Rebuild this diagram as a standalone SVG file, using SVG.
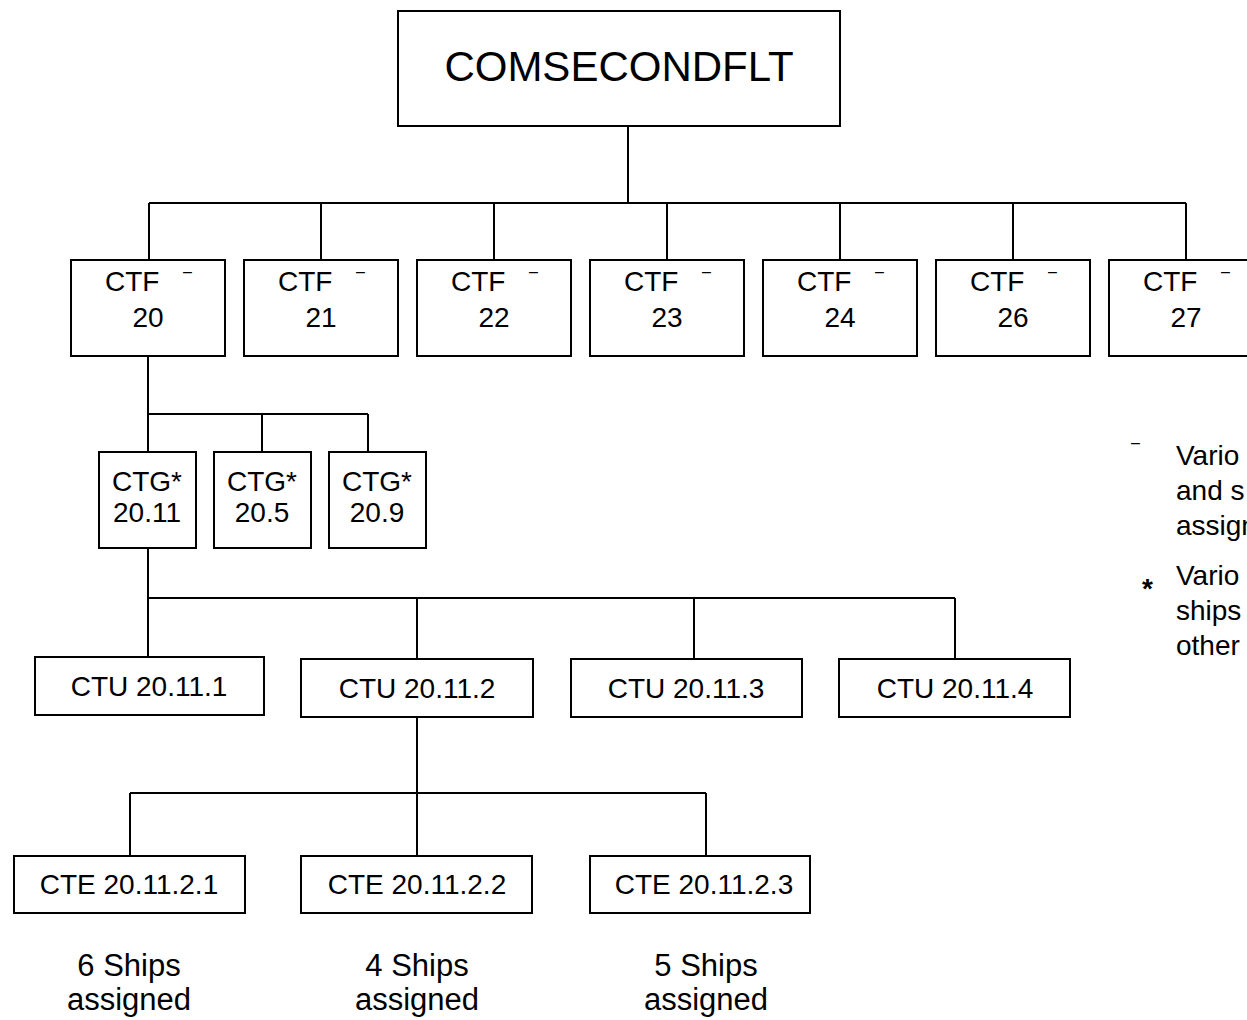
<svg xmlns="http://www.w3.org/2000/svg" width="1247" height="1020" viewBox="0 0 1247 1020">
<style>
.box{fill:#fff;stroke:#000;stroke-width:2}
.con{fill:none;stroke:#000;stroke-width:2}
text{font-family:"Liberation Sans",Arial,sans-serif;font-size:28px;fill:#000}
.c{text-anchor:middle}
.big{font-size:42px}
.lbl{font-size:31px}
.mark{font-size:16px}
</style>
<rect width="1247" height="1020" fill="#fff"/>
<g id="connectors">
<path class="con" d="M628 126V203M149 203H1186M149 203V260M321 203V260M494 203V260M667 203V260M840 203V260M1013 203V260M1186 203V260"/>
<path class="con" d="M148 356V452M148 414H368M262 414V452M368 414V452"/>
<path class="con" d="M148 548V657M148 598H955M417 598V659M694 598V659M955 598V659"/>
<path class="con" d="M417 717V856M130 793H706M130 793V856M706 793V856"/>
</g>
<g id="n-comsecondflt"><rect class="box" x="398" y="11" width="442" height="115"/><text class="c big" x="619" y="81">COMSECONDFLT</text></g>
<g id="n-ctf20"><rect class="box" x="71" y="260" width="154" height="96"/><text x="105" y="291">CTF</text><text class="mark" x="183" y="277">–</text><text class="c" x="148" y="327">20</text></g>
<g id="n-ctf21"><rect class="box" x="244" y="260" width="154" height="96"/><text x="278" y="291">CTF</text><text class="mark" x="356" y="277">–</text><text class="c" x="321" y="327">21</text></g>
<g id="n-ctf22"><rect class="box" x="417" y="260" width="154" height="96"/><text x="451" y="291">CTF</text><text class="mark" x="529" y="277">–</text><text class="c" x="494" y="327">22</text></g>
<g id="n-ctf23"><rect class="box" x="590" y="260" width="154" height="96"/><text x="624" y="291">CTF</text><text class="mark" x="702" y="277">–</text><text class="c" x="667" y="327">23</text></g>
<g id="n-ctf24"><rect class="box" x="763" y="260" width="154" height="96"/><text x="797" y="291">CTF</text><text class="mark" x="875" y="277">–</text><text class="c" x="840" y="327">24</text></g>
<g id="n-ctf26"><rect class="box" x="936" y="260" width="154" height="96"/><text x="970" y="291">CTF</text><text class="mark" x="1048" y="277">–</text><text class="c" x="1013" y="327">26</text></g>
<g id="n-ctf27"><rect class="box" x="1109" y="260" width="154" height="96"/><text x="1143" y="291">CTF</text><text class="mark" x="1221" y="277">–</text><text class="c" x="1186" y="327">27</text></g>
<g id="n-ctg2011"><rect class="box" x="99" y="452" width="97" height="96"/><text class="c" x="147" y="491">CTG*</text><text class="c" x="147" y="522">20.11</text></g>
<g id="n-ctg205"><rect class="box" x="214" y="452" width="97" height="96"/><text class="c" x="262" y="491">CTG*</text><text class="c" x="262" y="522">20.5</text></g>
<g id="n-ctg209"><rect class="box" x="329" y="452" width="97" height="96"/><text class="c" x="377" y="491">CTG*</text><text class="c" x="377" y="522">20.9</text></g>
<g id="n-ctu1"><rect class="box" x="35" y="657" width="229" height="58"/><text class="c" x="149" y="696">CTU 20.11.1</text></g>
<g id="n-ctu2"><rect class="box" x="301" y="659" width="232" height="58"/><text class="c" x="417" y="698">CTU 20.11.2</text></g>
<g id="n-ctu3"><rect class="box" x="571" y="659" width="231" height="58"/><text class="c" x="686" y="698">CTU 20.11.3</text></g>
<g id="n-ctu4"><rect class="box" x="839" y="659" width="231" height="58"/><text class="c" x="955" y="698">CTU 20.11.4</text></g>
<g id="n-cte1"><rect class="box" x="14" y="856" width="231" height="57"/><text class="c" x="129" y="894">CTE 20.11.2.1</text></g>
<g id="n-cte2"><rect class="box" x="301" y="856" width="231" height="57"/><text class="c" x="417" y="894">CTE 20.11.2.2</text></g>
<g id="n-cte3"><rect class="box" x="590" y="856" width="220" height="57"/><text class="c" x="704" y="894">CTE 20.11.2.3</text></g>
<g id="ships1"><text class="c lbl" x="129" y="976">6 Ships</text><text class="c lbl" x="129" y="1010">assigned</text></g>
<g id="ships2"><text class="c lbl" x="417" y="976">4 Ships</text><text class="c lbl" x="417" y="1010">assigned</text></g>
<g id="ships3"><text class="c lbl" x="706" y="976">5 Ships</text><text class="c lbl" x="706" y="1010">assigned</text></g>
<g id="legend">
<text class="mark" x="1131" y="448">–</text>
<text x="1176" y="465">Vario</text>
<text x="1176" y="500">and s</text>
<text x="1176" y="535">assign</text>
<text x="1142" y="598" font-weight="bold" font-size="30">*</text>
<text x="1176" y="585">Vario</text>
<text x="1176" y="620">ships</text>
<text x="1176" y="655">other</text>
</g>
</svg>
